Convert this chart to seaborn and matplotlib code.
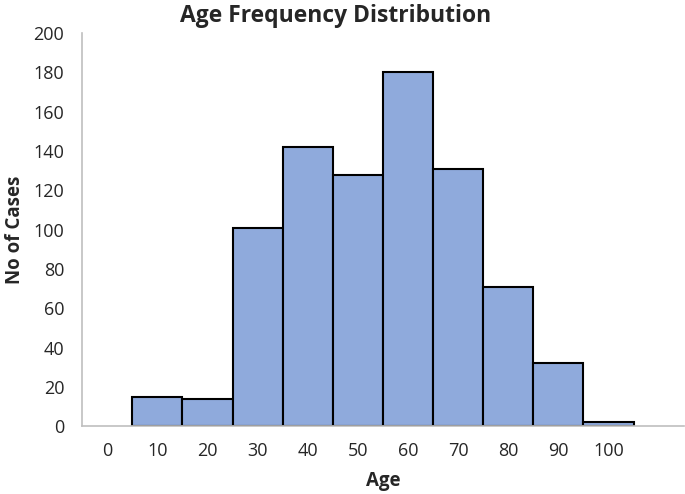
import matplotlib
matplotlib.use("Agg")
import matplotlib.pyplot as plt
import seaborn as sns
import pandas as pd

ages = [10, 20, 30, 40, 50, 60, 70, 80, 90, 100]
cases = [15, 14, 101, 142, 128, 180, 131, 71, 32, 2]
x_ticks = [0, 10, 20, 30, 40, 50, 60, 70, 80, 90, 100]
y_ticks = [0, 20, 40, 60, 80, 100, 120, 140, 160, 180, 200]

sns.set_style("white")
plt.rcParams['font.family'] = ['Open Sans', 'DejaVu Sans']

df = pd.DataFrame({"Age": ages, "Cases": cases})

fig = plt.figure(figsize=(6.85, 4.94), dpi=100)
ax = fig.add_axes([0.12, 0.137, 0.878, 0.796])
sns.barplot(data=df, x="Age", y="Cases", native_scale=True, width=1.0,
            color="#8FAADC", saturation=1, edgecolor="black", linewidth=1.5, ax=ax)

ax.set_xlim(-5, 115)
ax.set_ylim(0, 200)
ax.set_xticks(x_ticks)
ax.set_xticklabels([str(t) for t in x_ticks], fontsize=13)
ax.set_yticks(y_ticks)
ax.set_yticklabels([str(t) for t in y_ticks], fontsize=13)
ax.tick_params(axis='x', length=0, pad=11)
ax.tick_params(axis='y', length=4, color="#BFBFBF", width=1, pad=9)
for s in ["top", "right"]:
    ax.spines[s].set_visible(False)
for s in ["left", "bottom"]:
    ax.spines[s].set_color("#BFBFBF")
    ax.spines[s].set_linewidth(1.2)

ax.set_xlabel("Age", fontsize=13.5, fontweight="bold", labelpad=8)
ax.set_ylabel("No of Cases", fontsize=13.5, fontweight="bold", labelpad=6)
ax.set_title("Age Frequency Distribution", fontsize=16.5, fontweight="bold",
             pad=8, x=0.421)

fig.savefig("out.png", dpi=100)
